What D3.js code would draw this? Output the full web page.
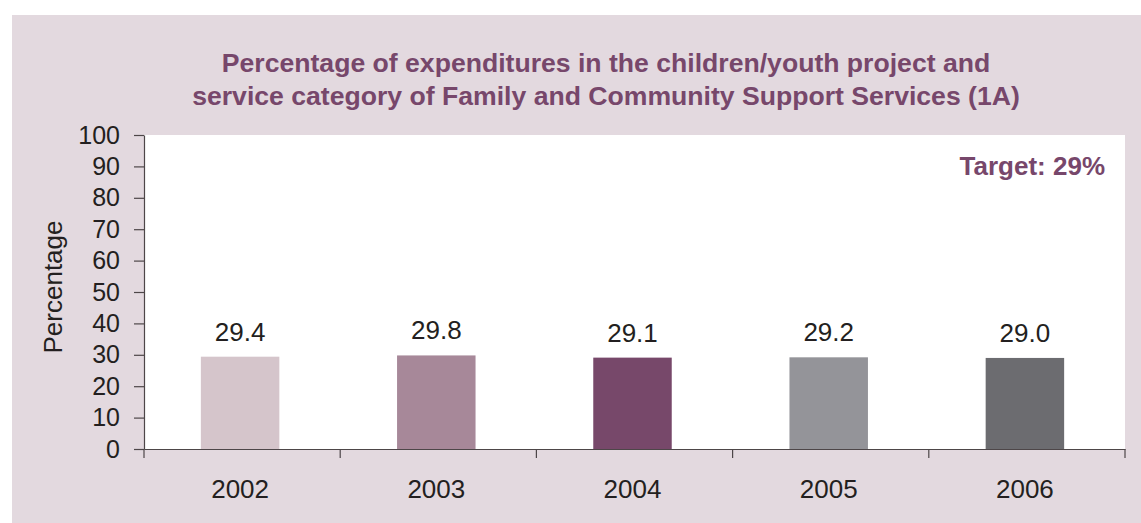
<!DOCTYPE html>
<html>
<head>
<meta charset="utf-8">
<script src="https://cdn.jsdelivr.net/npm/d3@7"></script>
<style>
  html, body { margin: 0; padding: 0; background: #ffffff; }
  svg { display: block; }
</style>
</head>
<body>
<svg id="chart" width="1141" height="523"></svg>
<script>
// Data
const years = ["2002", "2003", "2004", "2005", "2006"];
const values = [29.4, 29.8, 29.1, 29.2, 29.0];
const barColors = ["#d5c5cb", "#a78899", "#77486a", "#949499", "#6c6c70"];
const yTicks = [0, 10, 20, 30, 40, 50, 60, 70, 80, 90, 100];
const titleLines = [
  "Percentage of expenditures in the children/youth project and",
  "service category of Family and Community Support Services (1A)"
];
const targetLabel = "Target: 29%";
const yLabel = "Percentage";

const svg = d3.select("#chart");
const W = 1141, H = 523;
const accent = "#77476b";
const ink = "#231f20";
const axisColor = "#4d4648";
const font = "'Liberation Sans', Arial, sans-serif";
const fs = 25;

// Panel background
svg.append("rect")
  .attr("x", 12).attr("y", 15)
  .attr("width", W - 12).attr("height", H - 15)
  .attr("fill", "#e3d9df");

// Plot area
const plot = { left: 144, right: 1125, top: 135, bottom: 449 };
svg.append("rect")
  .attr("x", plot.left).attr("y", plot.top)
  .attr("width", plot.right - plot.left).attr("height", plot.bottom - plot.top)
  .attr("fill", "#ffffff");

const x = d3.scaleBand().domain(years).range([plot.left, plot.right]).paddingInner(0).paddingOuter(0);
const y = d3.scaleLinear().domain([0, 100]).range([plot.bottom, plot.top]);
const barW = x.bandwidth() * 0.4;

// Title
svg.append("g").selectAll("text").data(titleLines).join("text")
  .attr("x", 606)
  .attr("y", (d, i) => 72 + i * 33)
  .attr("text-anchor", "middle")
  .attr("font-family", font)
  .attr("font-weight", "bold")
  .attr("font-size", 26.6)
  .attr("fill", accent)
  .text(d => d);

// Bars
svg.append("g").selectAll("rect").data(years).join("rect")
  .attr("x", d => x(d) + x.bandwidth() / 2 - barW / 2 - 2)
  .attr("y", (d, i) => y(values[i]))
  .attr("width", barW)
  .attr("height", (d, i) => y(0) - y(values[i]))
  .attr("fill", (d, i) => barColors[i]);

// Value labels
svg.append("g").selectAll("text").data(years).join("text")
  .attr("x", d => x(d) + x.bandwidth() / 2 - 2)
  .attr("y", (d, i) => y(values[i]) - 16)
  .attr("text-anchor", "middle")
  .attr("font-family", font)
  .attr("font-size", 26)
  .attr("fill", ink)
  .text((d, i) => values[i].toFixed(1));

// Y axis
const yAxis = svg.append("g")
  .attr("transform", `translate(${plot.left},0)`)
  .call(d3.axisLeft(y).tickValues(yTicks).tickSize(10).tickPadding(14).tickSizeOuter(0));
yAxis.select(".domain").attr("stroke", axisColor).attr("stroke-width", 1.2);
yAxis.selectAll(".tick line").attr("stroke", axisColor).attr("stroke-width", 1.2);
yAxis.selectAll(".tick text")
  .attr("font-family", font).attr("font-size", fs).attr("fill", ink);

// X axis with ticks at category boundaries
const xAxis = svg.append("g")
  .attr("transform", `translate(0,${plot.bottom})`)
  .call(d3.axisBottom(x).tickSize(0).tickPadding(31).tickSizeOuter(0));
xAxis.select(".domain").attr("stroke", axisColor).attr("stroke-width", 1.2);
xAxis.selectAll(".tick text")
  .attr("font-family", font).attr("font-size", 26).attr("fill", ink)
  .attr("dx", -2);
const boundaries = years.map(d => x(d)).concat([x(years[years.length - 1]) + x.bandwidth()]);
xAxis.append("g").selectAll("line").data(boundaries).join("line")
  .attr("x1", d => d).attr("x2", d => d)
  .attr("y1", 0).attr("y2", 9)
  .attr("stroke", axisColor).attr("stroke-width", 1.2);

// Y axis title
svg.append("text")
  .attr("transform", "translate(62,287) rotate(-90)")
  .attr("text-anchor", "middle")
  .attr("font-family", font)
  .attr("font-size", 26)
  .attr("fill", ink)
  .text(yLabel);

// Target annotation
svg.append("text")
  .attr("x", 1105).attr("y", 175)
  .attr("text-anchor", "end")
  .attr("font-family", font)
  .attr("font-weight", "bold")
  .attr("font-size", 26)
  .attr("fill", accent)
  .text(targetLabel);
</script>
</body>
</html>
